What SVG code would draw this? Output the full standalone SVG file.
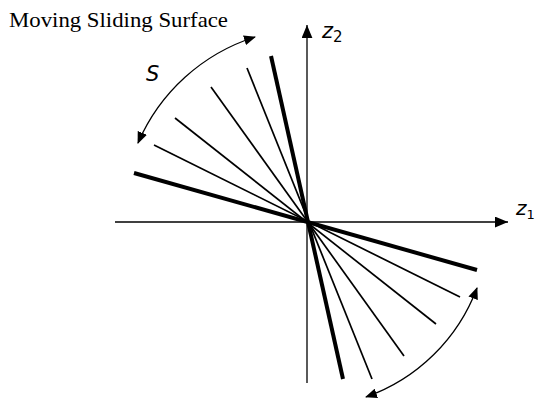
<svg xmlns="http://www.w3.org/2000/svg" width="537" height="401" viewBox="0 0 537 401">
<style>
.ax{stroke:#000;stroke-width:1.3;fill:none}
.thin{stroke:#000;stroke-width:1.7;fill:none}
.thick{stroke:#000;stroke-width:4;fill:none}
.arc{stroke:#000;stroke-width:1.3;fill:none}
.lbl{font-family:"DejaVu Sans",sans-serif;font-style:italic;fill:#000}
</style>
<defs>
<marker id="ah" viewBox="0 0 12 10" refX="11" refY="5" markerWidth="12" markerHeight="10" markerUnits="userSpaceOnUse" orient="auto-start-reverse">
<path d="M0,0 L12,5 L0,10 z" fill="#000"/>
</marker>
<marker id="ax" viewBox="0 0 12 10" refX="12" refY="5" markerWidth="13" markerHeight="11" markerUnits="userSpaceOnUse" orient="auto">
<path d="M0,0 L12,5 L0,10 z" fill="#000"/>
</marker>
</defs>
<rect width="537" height="401" fill="#fff"/>
<text x="9" y="27" font-family="Liberation Serif, serif" font-size="21" textLength="219" lengthAdjust="spacingAndGlyphs" fill="#000">Moving Sliding Surface</text>
<g id="axes">
<line class="ax" x1="115" y1="222" x2="508" y2="222" marker-end="url(#ax)"/>
<line class="ax" x1="307" y1="383" x2="307" y2="25" marker-end="url(#ax)"/>
</g>
<g id="labels">
<text class="lbl" x="322" y="38" font-size="21">z<tspan font-size="15" dy="4" font-style="normal">2</tspan></text>
<text class="lbl" x="516" y="215" font-size="20">z<tspan font-size="13" dy="4" font-style="normal">1</tspan></text>
<text class="lbl" x="146" y="81" font-size="21">S</text>
</g>
<g id="surfaces">
<line class="thick" x1="271" y1="56" x2="343" y2="379"/>
<line class="thin" x1="247" y1="68" x2="372" y2="379"/>
<line class="thin" x1="211" y1="87" x2="404" y2="356"/>
<line class="thin" x1="175" y1="118" x2="436" y2="324"/>
<line class="thin" x1="154" y1="145" x2="460" y2="297"/>
<line class="thick" x1="134" y1="173" x2="477" y2="270"/>
</g>
<g id="connectors">
<path class="arc" d="M255,37 A190,190 0 0 0 138,143" marker-start="url(#ah)" marker-end="url(#ah)"/>
<path class="arc" d="M477,288 A184,184 0 0 1 366,397" marker-start="url(#ah)" marker-end="url(#ah)"/>
</g>
</svg>
